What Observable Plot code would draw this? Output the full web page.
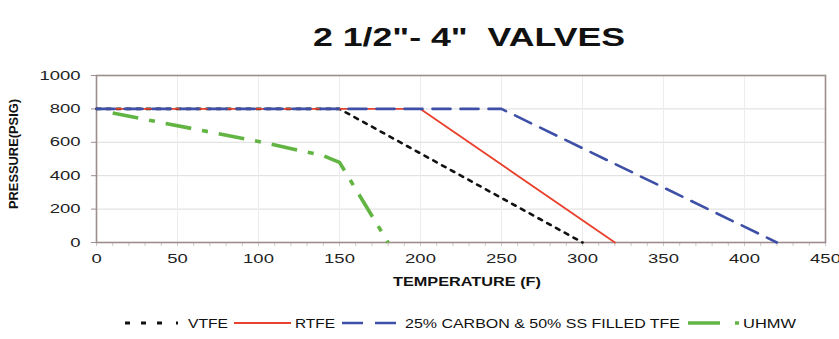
<!DOCTYPE html>
<html>
<head>
<meta charset="utf-8">
<script src="https://cdn.jsdelivr.net/npm/d3@7"></script>
<script src="https://cdn.jsdelivr.net/npm/@observablehq/plot@0.6"></script>
<style>
  html, body { margin: 0; padding: 0; background: #fff; }
  body { width: 839px; height: 339px; position: relative; overflow: hidden; font-family: "Liberation Sans", Arial, sans-serif; }
  #title { position: absolute; left: 0; top: 0; width: 839px; height: 60px; }
  #title div { position: absolute; left: 313px; top: 22px; font-size: 26px; font-weight: bold; color: #111; white-space: pre; transform-origin: 0 0; }
  #chart { position: absolute; left: 0; top: 60px; }
  #legend { position: absolute; left: 0; top: 310px; }
</style>
</head>
<body>
<div id="title"><div id="titleText">2 1/2"- 4"  VALVES</div></div>
<div id="chart"></div>
<svg id="legend" width="839" height="28"></svg>
<script>
// ---- data ----
const vtfeTemp = [0, 150, 300];
const vtfePress = [800, 800, 0];
const rtfeTemp = [0, 200, 320];
const rtfePress = [800, 800, 0];
const carbonTemp = [0, 250, 420];
const carbonPress = [800, 800, 0];
const uhmwTemp = [10, 100, 140, 150, 180];
const uhmwPress = [775, 605, 520, 480, 0];
const seriesNames = ["VTFE", "RTFE", "25% CARBON & 50% SS FILLED TFE", "UHMW"];
const xTicks = [0, 50, 100, 150, 200, 250, 300, 350, 400, 450];
const yTicks = [0, 200, 400, 600, 800, 1000];
const xMinorTicks = d3.range(0, 451, 10);

const toRows = (t, p) => t.map((x, i) => ({x, y: p[i]}));
const vtfe = toRows(vtfeTemp, vtfePress);
const rtfe = toRows(rtfeTemp, rtfePress);
const carbon = toRows(carbonTemp, carbonPress);
const uhmw = toRows(uhmwTemp, uhmwPress);

const styles = [
  {stroke: "#111", strokeWidth: 2.6, strokeDasharray: "4,6"},
  {stroke: "#e8412c", strokeWidth: 1.8, strokeDasharray: null},
  {stroke: "#3d4fa6", strokeWidth: 2.6, strokeDasharray: "18,10"},
  {stroke: "#62b443", strokeWidth: 3.6, strokeDasharray: "26,11,6,11"}
];

const frameColor = "#9c8e8c";

const chart = Plot.plot({
  width: 839,
  height: 240,
  marginTop: 15,
  marginBottom: 58,
  marginLeft: 96,
  marginRight: 14,
  style: {fontFamily: "Liberation Sans, Arial, sans-serif", fontSize: "13px", color: "#222", background: "#fff"},
  x: {domain: [0, 450], label: null},
  y: {domain: [0, 1000], label: null},
  marks: [
    Plot.gridY([200, 400, 600, 800], {stroke: "#dcdcdc", strokeOpacity: 1}),
    Plot.gridX([50, 100, 150, 200, 250, 300, 350, 400], {stroke: "#ececec", strokeOpacity: 1}),
    Plot.axisX(xMinorTicks, {tickSize: 4, text: null, stroke: "#cfc8c8", anchor: "bottom"}),
    Plot.axisX(xTicks, {tickSize: 0, tickPadding: 11, anchor: "bottom", fontSize: 13, fill: "#222", label: null, tickFormat: d3.format("d")}),
    Plot.axisY(yTicks, {tickSize: 5, tickPadding: 11, anchor: "left", fontSize: 13, fill: "#222", stroke: frameColor, label: null, tickFormat: d3.format("d")}),
    Plot.frame({stroke: frameColor, strokeWidth: 1.6}),
    Plot.line(vtfe, {x: "x", y: "y", ...styles[0]}),
    Plot.line(rtfe, {x: "x", y: "y", ...styles[1]}),
    Plot.line(carbon, {x: "x", y: "y", ...styles[2]}),
    Plot.line(uhmw, {x: "x", y: "y", ...styles[3], strokeLinecap: "butt"}),
    Plot.text(["TEMPERATURE (F)"], {frameAnchor: "bottom", dy: 43, dx: 6, fontSize: 13, fontWeight: "bold", fill: "#111", className: "xlab"}),
    Plot.text(["PRESSURE(PSIG)"], {frameAnchor: "left", dx: -83, dy: 50, rotate: -90, textAnchor: "start", fontSize: 12.5, fontWeight: "bold", fill: "#111", className: "ylab"})
  ]
});
document.getElementById("chart").appendChild(chart);

// horizontally widen text to match the stretched look of the reference
function stretch(el, target) {
  const n = el.getComputedTextLength();
  if (!n) return;
  el.setAttribute("textLength", target(n));
  el.setAttribute("lengthAdjust", "spacingAndGlyphs");
}
chart.querySelectorAll("g[aria-label='x-axis tick label'] text, g[aria-label='y-axis tick label'] text")
  .forEach(t => stretch(t, n => n * 1.42));
chart.querySelectorAll(".xlab text, g.xlab text").forEach(t => stretch(t, () => 148));
chart.querySelectorAll(".ylab text, g.ylab text").forEach(t => stretch(t, () => 110));

// title stretch
const tt = document.getElementById("titleText");
const tw = tt.getBoundingClientRect().width;
tt.style.transform = `scaleX(${312 / tw})`;

// ---- legend ----
const ns = "http://www.w3.org/2000/svg";
const lg = document.getElementById("legend");
const cy = 13;
function addLine(x1, x2, st, dash) {
  const l = document.createElementNS(ns, "line");
  l.setAttribute("x1", x1); l.setAttribute("x2", x2);
  l.setAttribute("y1", cy); l.setAttribute("y2", cy);
  l.setAttribute("stroke", st.stroke);
  l.setAttribute("stroke-width", st.strokeWidth);
  if (dash) l.setAttribute("stroke-dasharray", dash);
  lg.appendChild(l);
}
function addText(x, w, s) {
  const t = document.createElementNS(ns, "text");
  t.setAttribute("x", x); t.setAttribute("y", cy);
  t.setAttribute("dy", "0.36em");
  t.setAttribute("font-size", 13);
  t.setAttribute("fill", "#111");
  t.setAttribute("font-family", "Liberation Sans, Arial, sans-serif");
  t.textContent = s;
  lg.appendChild(t);
  t.setAttribute("textLength", w);
  t.setAttribute("lengthAdjust", "spacingAndGlyphs");
}
addLine(125, 186, {stroke: styles[0].stroke, strokeWidth: 3}, "5,11,5,11,5,14,2,100");
addText(188, 40, seriesNames[0]);
addLine(234, 291, styles[1], null);
addText(295, 40, seriesNames[1]);
addLine(342, 399, styles[2], "21,12");
addText(405, 275, seriesNames[2]);
addLine(688, 740, styles[3], "32,15,4,100");
addText(743, 53, seriesNames[3]);
</script>
</body>
</html>
